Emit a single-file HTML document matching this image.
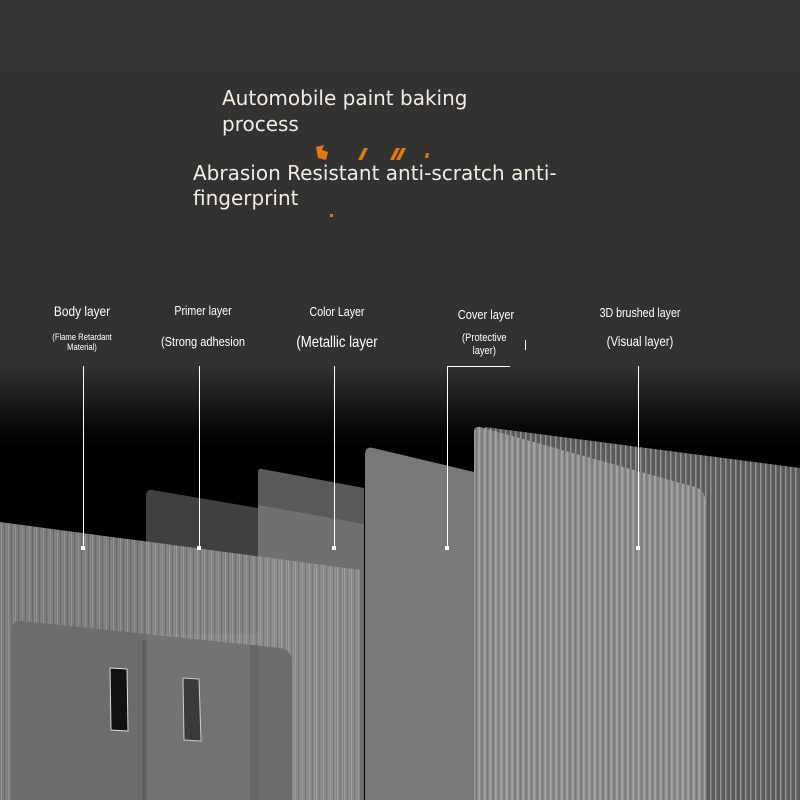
<!DOCTYPE html>
<html><head><meta charset="utf-8"><style>
html,body{margin:0;padding:0;background:#333;}
svg{display:block}
.t{font-family:"Liberation Sans Narrow","Liberation Sans",sans-serif;fill:#fff;}
.h{font-family:"DejaVu Sans","Liberation Sans",sans-serif;fill:#f4ece2;font-size:20px;}
</style></head><body>
<svg width="800" height="800" viewBox="0 0 800 800" xmlns="http://www.w3.org/2000/svg">
<defs>
<linearGradient id="bg" x1="0" y1="0" x2="0" y2="1">
<stop offset="0" stop-color="#333"/><stop offset="0.46" stop-color="#313131"/><stop offset="0.53" stop-color="#0a0a0a"/><stop offset="0.56" stop-color="#000"/><stop offset="1" stop-color="#000"/>
</linearGradient>
<pattern id="stripe" width="5.5" height="10" patternUnits="userSpaceOnUse">
<rect width="5.5" height="10" fill="#8a8a8a"/><rect x="0" width="1.6" height="10" fill="#a6a6a6"/><rect x="3" width="1" height="10" fill="#787878"/>
</pattern>
<pattern id="stripe2" width="5" height="10" patternUnits="userSpaceOnUse">
<rect width="5" height="10" fill="#5a5a5a"/><rect x="0" width="1.5" height="10" fill="#929292"/>
</pattern>
<pattern id="brush" width="7" height="40" patternUnits="userSpaceOnUse">
<rect width="7" height="40" fill="#7c7c7c"/><rect x="1" width="1" height="40" fill="#939393"/><rect x="4" width="1" height="40" fill="#6a6a6a"/><rect x="6" width="0.8" height="40" fill="#888"/>
</pattern>
</defs>
<rect width="800" height="800" fill="url(#bg)"/>

<path d="M485 427 L800 468 L800 800 L485 800 Z" fill="url(#stripe2)"/>
<path d="M474 432 Q474 426 480 427 L695 487 Q705 490 705 500 L705 800 L474 800 Z" fill="url(#stripe)"/>
<path d="M365 455 Q365 446 373 448 L474 472 L474 800 L365 800 Z" fill="#797979"/>
<path d="M258 472 Q258 468 262 469 L364 488 L364 800 L258 800 Z" fill="#5a5a5a"/>
<path d="M258 505 L364 524 L364 800 L258 800 Z" fill="#707070"/>
<path d="M146 496 Q146 489 152 490 L258 508 L258 800 L146 800 Z" fill="#404040"/>
<path d="M0 522 L360 570 L360 800 L0 800 Z" fill="url(#brush)"/>
<path d="M146 541 L258 556 L258 800 L146 800 Z" fill="#ffffff" opacity="0.05"/>
<path d="M258 556 L360 570 L360 800 L258 800 Z" fill="#ffffff" opacity="0.1"/>
<path d="M12 630 Q12 620 22 621 L280 648 Q292 650 292 662 L292 800 L12 800 Z" fill="#6c6c6c"/>
<rect x="142" y="640" width="5" height="160" fill="#5a5a5a" opacity="0.7"/>
<rect x="146" y="634" width="112" height="166" fill="#ffffff" opacity="0.05"/>
<rect x="250" y="645" width="8" height="155" fill="#5f5f5f" opacity="0.6"/>
<path d="M110 668 L127 669 L128 731 L111 730 Z" fill="#111" stroke="#ddd" stroke-width="1"/>
<path d="M183 678 L199 679 L201 741 L184 740 Z" fill="#3a3a3a" stroke="#ccc" stroke-width="1"/>

<g stroke="#fff" stroke-width="1" fill="none">
<line x1="83.5" y1="366" x2="83.5" y2="548"/>
<line x1="199.5" y1="366" x2="199.5" y2="548"/>
<line x1="334.5" y1="366" x2="334.5" y2="548"/>
<polyline points="447.5,548 447.5,366.5 510,366.5"/>
<line x1="525.5" y1="340" x2="525.5" y2="350"/>
<line x1="638.5" y1="366" x2="638.5" y2="548"/>
</g>
<g fill="#fff">
<rect x="81" y="546" width="4" height="4"/><rect x="197" y="546" width="4" height="4"/><rect x="332" y="546" width="4" height="4"/><rect x="445" y="546" width="4" height="4"/><rect x="636" y="546" width="4" height="4"/>
</g>

<g class="t" text-anchor="middle">
<g transform="translate(82,0) scale(0.85,1)"><text x="0" y="316" font-size="14">Body layer</text><text x="0" y="340" font-size="9">(Flame Retardant</text><text x="0" y="350" font-size="9">Material)</text></g>
<g transform="translate(203,0) scale(0.85,1)"><text x="0" y="315" font-size="12.5">Primer layer</text><text x="0" y="346" font-size="13">(Strong adhesion</text></g>
<g transform="translate(337,0) scale(0.85,1)"><text x="0" y="316" font-size="12.5">Color Layer</text><text x="0" y="347" font-size="15.5">(Metallic layer</text></g>
<g transform="translate(486,0) scale(0.85,1)"><text x="0" y="319" font-size="13">Cover layer</text><text x="-2" y="341" font-size="11">(Protective</text><text x="-2" y="354" font-size="11">layer)</text></g>
<g transform="translate(640,0) scale(0.85,1)"><text x="0" y="317" font-size="12.5">3D brushed layer</text><text x="0" y="346" font-size="13.5">(Visual layer)</text></g>
</g>

<g fill="#e07a10">
<path d="M316 147 L324 145 L322 150 L328 152 L326 160 L318 158 Z"/>
<path d="M364 148 L368 148 L362 160 L358 160 Z"/>
<path d="M396 148 L400 148 L394 160 L390 160 Z"/><path d="M402 148 L406 148 L400 160 L396 160 Z"/>
<path d="M426 153 L429 153 L428 158 L425 158 Z"/>
<rect x="330" y="214" width="3" height="3"/>
</g>
<text class="h" x="222" y="105">Automobile paint baking</text>
<text class="h" x="222" y="131">process</text>
<text class="h" x="193" y="180">Abrasion Resistant anti-scratch anti-</text>
<text class="h" x="193" y="205">fingerprint</text>
</svg>
</body></html>
